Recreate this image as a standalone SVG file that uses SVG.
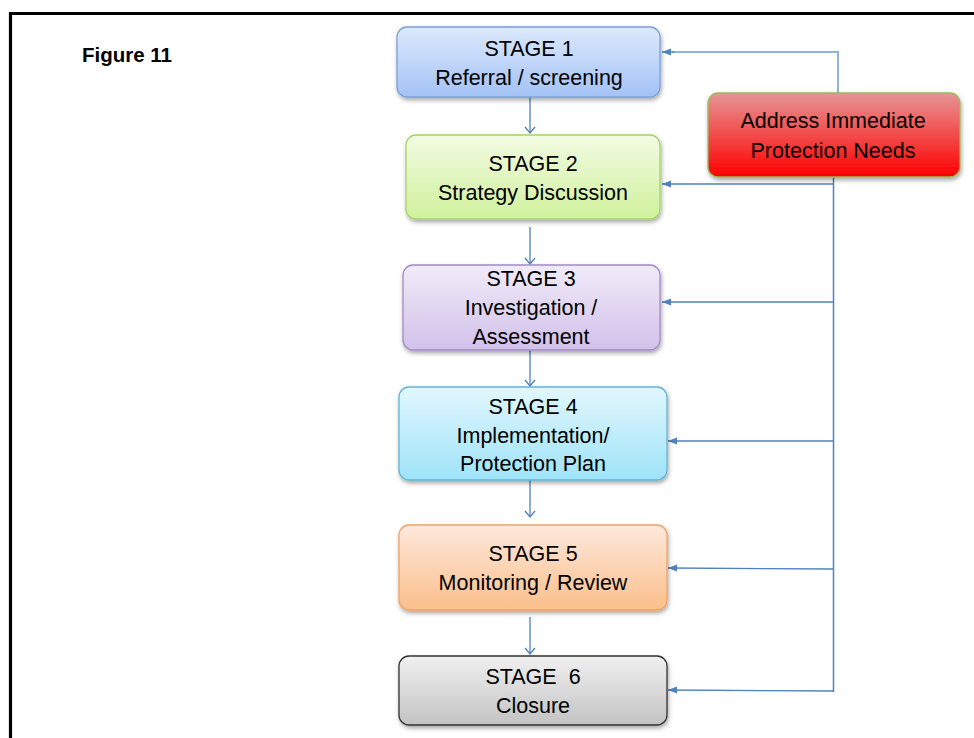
<svg xmlns="http://www.w3.org/2000/svg" width="974" height="738" viewBox="0 0 974 738">
<defs>
<style>
text{font-family:"Liberation Sans",Arial,sans-serif;font-size:21.5px;fill:#000;text-anchor:middle}
.fig{font-weight:bold;font-size:20.5px;text-anchor:start}
.box{stroke-width:1.3}
.conn{fill:none;stroke:#4f81bd;stroke-width:1.3}
.feed{fill:none;stroke:#4f81bd;stroke-width:1.3}
</style>
<linearGradient id="g1" x1="0" y1="0" x2="0" y2="1"><stop offset="0" stop-color="#dde9fc"/><stop offset="1" stop-color="#a3c2f5"/></linearGradient>
<linearGradient id="g2" x1="0" y1="0" x2="0" y2="1"><stop offset="0" stop-color="#f2fbe3"/><stop offset="1" stop-color="#d0f19c"/></linearGradient>
<linearGradient id="g3" x1="0" y1="0" x2="0" y2="1"><stop offset="0" stop-color="#f1ebf8"/><stop offset="1" stop-color="#d2c1ea"/></linearGradient>
<linearGradient id="g4" x1="0" y1="0" x2="0" y2="1"><stop offset="0" stop-color="#e2f7fd"/><stop offset="1" stop-color="#9ee3f8"/></linearGradient>
<linearGradient id="g5" x1="0" y1="0" x2="0" y2="1"><stop offset="0" stop-color="#fde9dc"/><stop offset="1" stop-color="#fbbf8b"/></linearGradient>
<linearGradient id="g6" x1="0" y1="0" x2="0" y2="1"><stop offset="0" stop-color="#f0f0f0"/><stop offset="1" stop-color="#c3c3c3"/></linearGradient>
<linearGradient id="gr" x1="0" y1="0" x2="0" y2="1"><stop offset="0" stop-color="#e69595"/><stop offset="1" stop-color="#ff0000"/></linearGradient>
<filter id="sh" x="-10%" y="-10%" width="120%" height="130%"><feDropShadow dx="1" dy="2.5" stdDeviation="2" flood-color="#000" flood-opacity="0.35"/></filter>
<marker id="open" markerWidth="12" markerHeight="12" refX="10" refY="6" orient="auto" markerUnits="userSpaceOnUse" viewBox="0 0 12 12">
<path d="M4,1 L10,6 L4,11" fill="none" stroke="#4f81bd" stroke-width="1.3"/>
</marker>
<marker id="tri" markerWidth="10" markerHeight="10" refX="9" refY="5" orient="auto" markerUnits="userSpaceOnUse" viewBox="0 0 10 10">
<path d="M0,1.5 L9,5 L0,8.5 Z" fill="#4f81bd"/>
</marker>
</defs>
<rect width="974" height="738" fill="#fff"/>
<path d="M10.5,738 V13.5 H974" fill="none" stroke="#000" stroke-width="3.2"/>
<text class="fig" x="82" y="62">Figure 11</text>

<g id="connectors">
<line class="conn" x1="530" y1="97" x2="530" y2="133" marker-end="url(#open)"/>
<line class="conn" x1="530" y1="227" x2="530" y2="264" marker-end="url(#open)"/>
<line class="conn" x1="530" y1="350" x2="530" y2="386" marker-end="url(#open)"/>
<line class="conn" x1="530" y1="480" x2="530" y2="517" marker-end="url(#open)"/>
<line class="conn" x1="530" y1="617" x2="530" y2="654" marker-end="url(#open)"/>
<path d="M838,93 V52 H672" stroke="#95b3d7" stroke-width="2" fill="none"/>
<line x1="674" y1="52" x2="662" y2="52" class="feed" marker-end="url(#tri)"/>
<line x1="833.5" y1="177" x2="833.5" y2="692" stroke="#4f81bd" stroke-width="1.5"/>
<line x1="834" y1="184" x2="662" y2="184" class="feed" marker-end="url(#tri)"/>
<line x1="834" y1="302" x2="662" y2="302" class="feed" marker-end="url(#tri)"/>
<line x1="834" y1="441" x2="668" y2="441" class="feed" marker-end="url(#tri)"/>
<line x1="834" y1="569" x2="668" y2="568" class="feed" marker-end="url(#tri)"/>
<line x1="834" y1="691" x2="668" y2="690" class="feed" marker-end="url(#tri)"/>
</g>

<g id="stage1">
<rect class="box" x="397" y="27" width="263" height="70" rx="10" fill="url(#g1)" stroke="#7aa0d8" filter="url(#sh)"/>
<text x="529" y="56">STAGE 1</text>
<text x="529" y="85">Referral / screening</text>
</g>
<g id="stage2">
<rect class="box" x="406" y="135" width="254" height="84" rx="10" fill="url(#g2)" stroke="#a6d46a" filter="url(#sh)"/>
<text x="533" y="171">STAGE 2</text>
<text x="533" y="200">Strategy Discussion</text>
</g>
<g id="stage3">
<rect class="box" x="403" y="265" width="257" height="85" rx="10" fill="url(#g3)" stroke="#a28bc5" filter="url(#sh)"/>
<text x="531" y="286">STAGE 3</text>
<text x="531" y="315">Investigation /</text>
<text x="531" y="344">Assessment</text>
</g>
<g id="stage4">
<rect class="box" x="399" y="387" width="268" height="93" rx="10" fill="url(#g4)" stroke="#62b5d6" filter="url(#sh)"/>
<text x="533" y="414">STAGE 4</text>
<text x="533" y="443">Implementation/</text>
<text x="533" y="471">Protection Plan</text>
</g>
<g id="stage5">
<rect class="box" x="399" y="525" width="268" height="85" rx="10" fill="url(#g5)" stroke="#f2a262" filter="url(#sh)"/>
<text x="533" y="561">STAGE 5</text>
<text x="533" y="590">Monitoring / Review</text>
</g>
<g id="stage6">
<rect class="box" x="399" y="656" width="268" height="69" rx="10" fill="url(#g6)" stroke="#333" filter="url(#sh)"/>
<text x="533" y="684" xml:space="preserve">STAGE  6</text>
<text x="533" y="713">Closure</text>
</g>
<g id="immediate">
<rect class="box" x="708" y="93" width="252" height="84" rx="10" fill="url(#gr)" stroke="#9bbb59" filter="url(#sh)"/>
<text x="833" y="128">Address Immediate</text>
<text x="833" y="158">Protection Needs</text>
</g>
</svg>
